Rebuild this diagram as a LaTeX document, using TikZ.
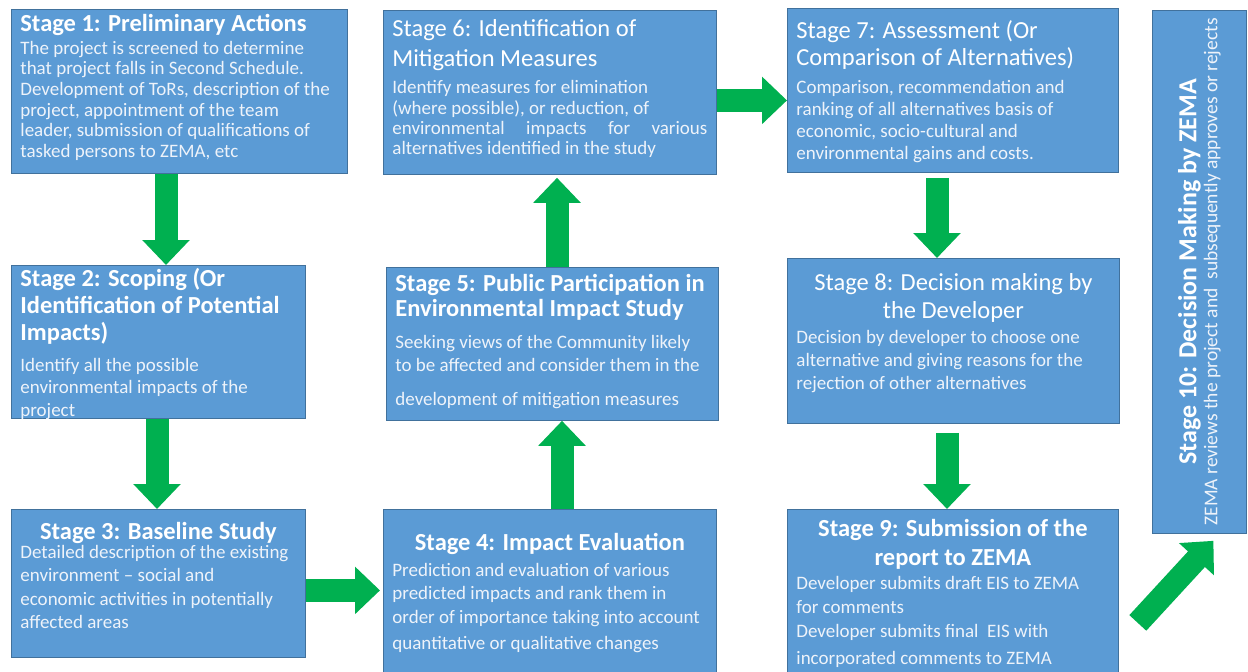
\documentclass[tikz,border=0pt]{standalone}
\usepackage{fontspec}
\setmainfont{Carlito}
\usetikzlibrary{arrows.meta}

\definecolor{boxblue}{HTML}{5B9BD5}
\definecolor{boxedge}{HTML}{41719C}
\definecolor{arrowgreen}{HTML}{00B050}
\definecolor{bodytext}{HTML}{EEF3FA}

% text styles for the stage boxes
\newcommand{\stitle}{\fontsize{24.5}{27}\selectfont\bfseries\color{white}}
\newcommand{\stitler}{\fontsize{24.5}{28}\selectfont\color{white}}
\newcommand{\sbody}[1]{\fontsize{19}{#1}\selectfont\color{bodytext}}
% one unbreakable line of text
\newcommand{\tline}[1]{\mbox{#1}}
% box contents: height, width, top padding, text
\newcommand{\stagetext}[4]{\parbox[c][#1pt][t]{#2pt}{\raggedright\vspace*{#3pt}#4}}

\tikzset{
  stagebox/.style={draw=boxedge, fill=boxblue, line width=0.8pt,
    inner xsep=9pt, inner ysep=0pt, anchor=north west},
  garrow/.style={draw=arrowgreen, line width=23pt,
    -{Triangle[width=46pt,length=25pt]}},
}

\begin{document}
\begin{tikzpicture}[x=1pt,y=-1pt]
\useasboundingbox[fill=white] (0,0) rectangle (1248,672);

% ---- stage boxes ----
\node[stagebox, minimum width=336pt, minimum height=164pt] (s1) at (11,9) {\stagetext{164}{318}{5}{%
  {\stitle \tline{Stage 1: Preliminary Actions}\par}
  \vspace{2pt}
  {\sbody{20.6} \tline{The project is screened to determine}\\
   \tline{that project falls in Second Schedule.}\\
   \tline{Development of ToRs, description of the}\\
   \tline{project, appointment of the team}\\
   \tline{leader, submission of qualifications of}\\
   \tline{tasked persons to ZEMA, etc}\par}}};

\node[stagebox, minimum width=294pt, minimum height=153pt] (s2) at (11,265) {\stagetext{153}{276}{3}{%
  {\stitle \tline{Stage 2: Scoping (Or}\\ \tline{Identification of Potential}\\ \tline{Impacts)}\par}
  \vspace{8pt}
  {\sbody{22.5} \tline{Identify all the possible}\\
   \tline{environmental impacts of the}\\
   \tline{project}\par}}};

\node[stagebox, minimum width=294pt, minimum height=148pt] (s3) at (11,509) {\stagetext{148}{276}{13}{%
  {\stitle\centering \tline{Stage 3: Baseline Study}\par}
  \vspace{-5pt}
  {\sbody{23.5} \tline{Detailed description of the existing}\\
   \tline{environment -- social and}\\
   \tline{economic activities in potentially}\\
   \tline{affected areas}\par}}};

\node[stagebox, minimum width=333pt, minimum height=163pt] (s4) at (383,509) {\stagetext{163}{315}{24}{%
  {\stitle\centering \tline{Stage 4: Impact Evaluation}\par}
  \vspace{2pt}
  {\sbody{23.5} \tline{Prediction and evaluation of various}\\
   \tline{predicted impacts and rank them in}\\
   \tline{order of importance taking into account}\\[3pt]
   \tline{quantitative or qualitative changes}\par}}};

\node[stagebox, minimum width=332pt, minimum height=153pt] (s5) at (386,267) {\stagetext{153}{314}{7}{%
  {\stitle\fontsize{24.5}{25}\selectfont \tline{Stage 5: Public Participation in}\\ \tline{Environmental Impact Study}\par}
  \vspace{8pt}
  {\sbody{23.5} \tline{Seeking views of the Community likely}\\
   \tline{to be affected and consider them in the}\\[10pt]
   \tline{development of mitigation measures}\par}}};

\node[stagebox, minimum width=333pt, minimum height=164pt] (s6) at (383,10) {\stagetext{164}{315}{9}{%
  {\stitler\fontsize{24.5}{30}\selectfont \tline{Stage 6: Identification of}\\ \tline{Mitigation Measures}\par}
  \vspace{7pt}
  {\sbody{20.3} \tline{Identify measures for elimination}\\
   \tline{(where possible), or reduction, of}\\
   \makebox[\linewidth][s]{environmental impacts for various}\\
   \tline{alternatives identified in the study}\par}}};

\node[stagebox, minimum width=331pt, minimum height=164pt] (s7) at (787,8) {\stagetext{164}{313}{12}{%
  {\stitler\fontsize{24.5}{27}\selectfont \tline{Stage 7: Assessment (Or}\\ \tline{Comparison of Alternatives)}\par}
  \vspace{6pt}
  {\sbody{22} \tline{Comparison, recommendation and}\\
   \tline{ranking of all alternatives basis of}\\
   \tline{economic, socio-cultural and}\\
   \tline{environmental gains and costs.}\par}}};

\node[stagebox, minimum width=332pt, minimum height=165pt] (s8) at (787,258) {\stagetext{165}{314}{15}{%
  {\stitler\centering \tline{Stage 8: Decision making by}\\ \tline{the Developer}\par}
  \vspace{2pt}
  {\sbody{23} \tline{Decision by developer to choose one}\\
   \tline{alternative and giving reasons for the}\\
   \tline{rejection of other alternatives}\par}}};

\node[stagebox, minimum width=331pt, minimum height=163pt] (s9) at (787,509) {\stagetext{163}{313}{10}{%
  {\stitle\fontsize{24.5}{29}\selectfont\centering \tline{Stage 9: Submission of the}\\ \tline{report to ZEMA}\par}
  {\sbody{24} \tline{Developer submits draft EIS to ZEMA}\\
   \tline{for comments}\\
   \tline{Developer submits final\ \ EIS with}\\[3pt]
   \tline{incorporated comments to ZEMA}\par}}};

\node[stagebox, minimum width=94pt, minimum height=523pt] (s10) at (1152,10) {%
  \rotatebox{90}{\parbox{515pt}{\centering
    {\stitle\fontsize{26}{27}\selectfont Stage 10: Decision Making by ZEMA\par}
    {\fontsize{19.5}{21}\selectfont\color{bodytext} ZEMA reviews the project and\ \ subsequently approves or rejects\par}}}};

% ---- flow arrows ----
\draw[garrow] ([xshift=155pt]s1.south west) -- ([xshift=155pt]s2.north west);
\draw[garrow] ([xshift=146pt]s2.south west) -- ([xshift=146pt]s3.north west);
\draw[garrow] ([yshift=-7pt]s3.east) -- ([yshift=-7pt,xshift=-3pt]s3.east -| s4.west);
\draw[garrow] ([xshift=179pt]s4.north west) -- ([xshift=179pt]s4.north west |- s5.south);
\draw[garrow] ([xshift=171pt]s5.north west) -- ([xshift=171pt,yshift=-3pt]s5.north west |- s6.south);
\draw[garrow] ([yshift=-8pt]s6.east) -- ([yshift=-8pt]s6.east -| s7.west);
\draw[garrow] ([xshift=150pt,yshift=-5pt]s7.south west) -- ([xshift=150pt]s8.north west);
\draw[garrow] ([xshift=160pt,yshift=-9pt]s8.south west) -- ([xshift=160pt]s9.north west);
\coordinate (a9) at ([xshift=19pt,yshift=-32pt]s9.east);
\coordinate (a10) at ([xshift=14pt,yshift=-7pt]s10.south);
\draw[garrow] (a9) -- (a10);
\end{tikzpicture}
\end{document}
